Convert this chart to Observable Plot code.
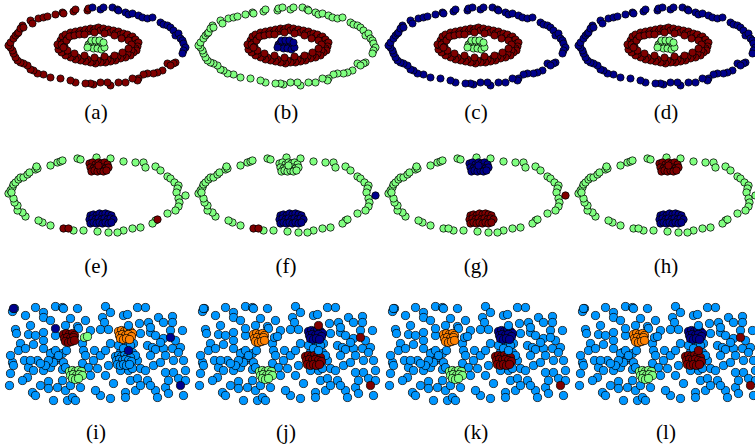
<!DOCTYPE html>
<html><head><meta charset="utf-8">
<script src="https://cdn.jsdelivr.net/npm/d3@7"></script>
<script src="https://cdn.jsdelivr.net/npm/@observablehq/plot@0.6"></script>
<style>
html,body{margin:0;padding:0;background:#fff;overflow:hidden;width:755px;height:446px;}
#fig{position:relative;width:755px;height:446px;overflow:hidden;}
.panel{position:absolute;width:190px;}
.cap{position:absolute;width:190px;text-align:center;font-family:'Liberation Serif','Times New Roman','DejaVu Serif',serif;font-size:21px;line-height:24px;color:#000;}
</style></head><body><div id="fig"></div>
<script>
// ---------- colours (label keys) ----------
const colorKeys = ["R", "B", "G", "L", "O"];
const colorHex  = ["#800000", "#00008c", "#80ff80", "#0096ff", "#ff8000"];

// ---------- row 1 : three concentric structures ----------
const ring1OuterA = [[22,25],[30,20],[32,23],[38,18],[43,17],[47,16],[55,14],[62,12],[63,13],[73,11],[75,9],[87,10],[88,8],
  [175,62],[173,63],[167,63],[170,65],[162,70],[157,72],[153,73],[147,73],[143,74],[138,78],[137,80],[132,78],[125,82],[118,82],
  [110,85],[107,82],[100,82],[93,84],[90,83],[85,83],[75,82],[70,80],[60,78],[50,77],[43,74],[37,73],[33,70],[30,69],[27,65],
  [23,63],[20,62],[17,60],[15,57],[13,53],[12,50],[10,47],[8,45],[10,42],[13,38],[15,35],[17,33],[18,32],[20,28],[23,27]];
const ring1OuterB = [[92,7],[100,9],[103,7],[112,7],[117,9],[118,10],[125,12],[128,14],[132,13],[138,15],[142,17],[147,18],
  [152,17],[160,22],[163,24],[167,25],[170,27],[173,30],[175,35],[178,33],[180,38],[182,40],[183,43],[185,47],[183,50],[182,53]];
const ring1Inner = [[60,40],[62,36],[63,42],[65,34],[67,38],[70,32],[72,35],[75,31],[78,33],[80,30],[83,32],[85,29],[88,31],
  [90,28],[93,30],[95,28],[98,27],[100,30],[103,28],[105,31],[108,29],[110,32],[113,30],[115,33],[118,31],[120,34],[123,33],
  [125,36],[127,34],[130,37],[132,36],[133,40],[135,39],[136,43],[138,42],[137,46],[135,48],[136,50],[133,52],[131,50],[130,55],
  [127,53],[125,57],[122,55],[120,58],[117,56],[115,60],[112,58],[110,61],[107,59],[105,62],[102,60],[100,62],[97,60],[95,63],
  [92,61],[90,62],[87,59],[85,61],[82,58],[80,60],[77,57],[75,59],[72,56],[70,57],[67,54],[65,55],[63,51],[61,52],[60,48],
  [58,49],[59,45],[57,44],[61,44],[64,46],[66,40],[69,36],[74,35],[79,34],[84,34],[94,32],[104,33],[114,35],[121,38],[128,40],
  [131,44],[128,48],[122,52],[114,55],[104,56],[94,57],[84,55],[74,53],[67,50],[63,47]];
const ring1Center = [[88,44],[90,42],[92,46],[94,43],[96,45],[98,42],[100,46],[102,44],[93,48],[97,48],[101,49],[91,40],
  [95,40],[99,40],[104,47],[87,47],[103,42]];
const row1Labels = ["(a)", "(b)", "(c)", "(d)"];
const row1OuterA = ["R", "G", "B", "B"];
const row1OuterB = ["B", "G", "B", "B"];
const row1InnerC = ["R", "R", "R", "R"];
const row1CenterC = ["G", "B", "G", "G"];

// ---------- row 2 : ellipse with two blobs ----------
const ell2 = [[8,53],[10,50],[12,47],[13,44],[15,42],[18,39],[20,37],[23,37],[27,34],[29,32],[35,29],[37,28],[36,26],[50,25],
  [57,22],[60,21],[62,20],[77,18],[80,19],[96,17],[110,18],[123,21],[135,22],[143,22],[145,27],[155,26],[160,30],[167,36],
  [170,38],[174,42],[178,45],[177,48],[176,52],[178,58],[179,62],[178,66],[175,70],[167,73],[155,80],[152,83],[140,87],
  [132,88],[123,90],[117,92],[108,92],[97,91],[83,90],[73,90],[50,85],[42,82],[38,80],[25,76],[22,72],[17,70],[17,65],
  [14,62],[13,58],[11,52]];
const ell2P1 = [[63,88],[68,88]];
const ell2P2 = [[157,79]];
const ell2P3 = [[185,55]];
const blob2Top = [[89,23],[92,22],[95,24],[98,22],[101,23],[104,22],[107,24],[90,27],[93,28],[96,27],[99,28],[102,27],
  [105,28],[108,27],[91,31],[94,30],[97,31],[100,30],[103,31],[106,30],[98,25]];
const blob2Bot = [[90,75],[93,74],[96,75],[99,73],[102,74],[105,73],[108,74],[111,75],[89,79],[92,78],[95,79],[98,78],
  [101,79],[104,78],[107,79],[110,78],[113,79],[90,83],[93,82],[96,83],[99,82],[102,83],[105,82],[108,83],[111,82]];
const row2Labels = ["(e)", "(f)", "(g)", "(h)"];
const row2Ell = ["G", "G", "G", "G"];
const row2P1 = ["R", "R", "G", "G"];
const row2P2 = ["R", "G", "G", "G"];
const row2P3 = ["G", "B", "R", "G"];
const row2Top = ["R", "G", "B", "R"];
const row2Bot = ["B", "B", "R", "B"];

// ---------- row 3 : scattered noise with small groups ----------
const bg3 = [[12,21],[14,18],[25,25],[35,17],[43,22],[43,27],[55,16],[62,17],[63,18],[77,18],[105,16],[110,22],[102,27],
  [123,25],[127,24],[137,17],[145,17],[158,27],[163,32],[172,26],[172,32],
  [15,39],[16,43],[28,44],[43,42],[77,36],[78,38],[104,32],[100,39],[108,39],[139,33],[148,32],[140,43],[150,42],[182,40],[163,48],
  [20,53],[33,54],[43,50],[43,58],[52,62],[62,63],[82,53],[83,60],[94,60],[110,53],[120,62],[133,53],[147,55],[152,57],
  [155,59],[163,58],[172,58],[180,57],
  [12,72],[13,75],[24,70],[28,77],[37,70],[33,80],[43,80],[50,77],[55,70],[57,67],[63,72],[62,79],[82,73],[88,77],[93,70],
  [97,78],[137,70],[140,78],[153,75],[165,82],[173,82],[173,70],[183,70],
  [10,83],[9,95],[27,87],[32,102],[48,91],[48,98],[57,97],[53,110],[67,110],[72,107],[75,110],[80,97],[100,105],[110,108],
  [113,93],[125,102],[125,107],[130,90],[135,100],[137,88],[147,90],[155,100],[157,107],[165,97],[168,103],[183,105],
  [50,63],[55,60],[58,65],[53,72],[48,70],[45,75],[40,73],[30,70],[65,77],[66,60],
  [120,45],[125,52],[130,55],[118,55],[123,58],[132,62],[127,64],[135,65],[128,80],[120,80],[132,78],
  [150,37],[155,45],[160,52],[170,40],[175,50],[178,62],[185,80],[165,65],[150,65],[160,72],[145,80],[168,90],[178,88],
  [150,95],[140,95],[185,90],
  [18,60],[25,58],[10,65],[30,35],[35,45],[22,90],[40,95],[35,105],[65,100],[62,90],[70,95],[85,65],[90,85],[95,100],
  [105,85],[108,75],[100,65],[105,60],[90,40],[85,30],[70,28],[65,35],[50,30],[55,45]];
const grpC1 = [[63,44],[66,43],[69,44],[72,43],[74,45],[64,48],[67,47],[70,48],[73,47],[65,51],[68,52],[71,51],[74,50]];
const grpC2 = [[118,41],[121,40],[124,41],[127,40],[130,41],[132,43],[119,45],[122,44],[125,45],[128,44],[131,46],[120,48],
  [123,49],[126,48],[129,49]];
const grpC3 = [[115,66],[118,65],[121,66],[124,65],[127,66],[130,67],[116,70],[119,69],[122,70],[125,69],[128,70],[131,71],
  [117,74],[120,75],[123,74],[126,75],[129,74]];
const grpC4 = [[69,81],[72,80],[75,81],[78,80],[81,81],[70,85],[73,84],[76,85],[79,84],[82,85],[72,88],[75,89],[78,88]];
const grpG2 = [[84,47],[87,46]];
const singS1 = [[13,18]];
const singS2 = [[55,38]];
const singS3 = [[128,60]];
const singS4 = [[170,47]];
const singS5 = [[180,95]];
const singS6 = [[128,35]];
const row3Labels = ["(i)", "(j)", "(k)", "(l)"];
const row3Bg = ["L", "L", "L", "L"];
const row3C1 = ["R", "O", "O", "O"];
const row3C2 = ["O", "B", "B", "B"];
const row3C3 = ["L", "R", "R", "R"];
const row3C4 = ["G", "G", "G", "G"];
const row3G2 = ["G", "L", "L", "L"];
const row3S1 = ["B", "L", "L", "L"];
const row3S2 = ["B", "L", "L", "L"];
const row3S3 = ["B", "L", "L", "R"];
const row3S4 = ["B", "R", "L", "R"];
const row3S5 = ["B", "R", "R", "R"];
const row3S6 = ["L", "R", "L", "L"];

// ---------- layout ----------
const colW = 190;
const rows = [
  {top: 0,   h: 92,  capTop: 100, r: 3.6, labels: row1Labels,
   layers: [[ring1OuterA, row1OuterA], [ring1OuterB, row1OuterB], [ring1Inner, row1InnerC], [ring1Center, row1CenterC]]},
  {top: 140, h: 100, capTop: 254, r: 3.7, labels: row2Labels,
   layers: [[ell2, row2Ell], [ell2P3, row2P3], [ell2P2, row2P2], [ell2P1, row2P1], [blob2Top, row2Top], [blob2Bot, row2Bot]]},
  {top: 290, h: 118, capTop: 420, r: 4.1, labels: row3Labels,
   layers: [[bg3, row3Bg], [grpC1, row3C1], [grpC2, row3C2], [grpC3, row3C3], [grpC4, row3C4], [grpG2, row3G2],
            [singS1, row3S1], [singS2, row3S2], [singS3, row3S3], [singS4, row3S4], [singS5, row3S5], [singS6, row3S6]]}
];

const fig = document.getElementById("fig");
rows.forEach(row => {
  for (let c = 0; c < 4; c++) {
    const data = [];
    row.layers.forEach(([pts, cols]) => pts.forEach(([x, y]) => data.push({x, y, k: cols[c]})));
    const chart = Plot.plot({
      width: colW, height: row.h, margin: 0,
      x: {domain: [0, colW], axis: null},
      y: {domain: [0, row.h], reverse: true, axis: null},
      color: {domain: colorKeys, range: colorHex},
      style: {overflow: "visible", background: "transparent"},
      marks: [Plot.dot(data, {x: "x", y: "y", r: row.r, fill: "k", stroke: "#000", strokeWidth: 0.75})]
    });
    const div = document.createElement("div");
    div.className = "panel";
    div.style.left = (c * colW) + "px";
    div.style.top = row.top + "px";
    div.appendChild(chart);
    fig.appendChild(div);
    const cap = document.createElement("div");
    cap.className = "cap";
    cap.style.left = (c * colW + 1) + "px";
    cap.style.top = row.capTop + "px";
    cap.textContent = row.labels[c];
    fig.appendChild(cap);
  }
});
</script></body></html>
